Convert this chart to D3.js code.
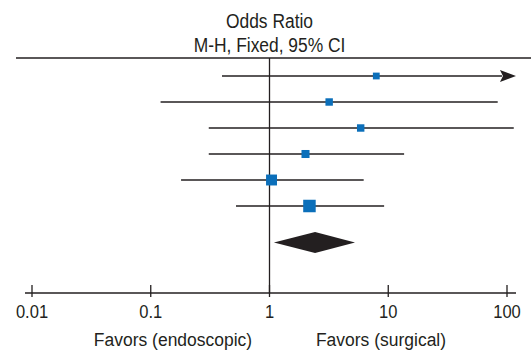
<!DOCTYPE html>
<html>
<head>
<meta charset="utf-8">
<script src="https://cdn.jsdelivr.net/npm/d3@7"></script>
<style>
  body { margin: 0; background: white; }
  text { font-family: "Liberation Sans", Arial, Helvetica, sans-serif; fill: #231f20; }
</style>
</head>
<body>
<script>
// odds ratio per study (M-H, fixed, 95% CI)
const oddsRatio = [7.93, 3.18, 5.86, 2.01, 1.04, 2.17];
const ciLower = [0.398, 0.121, 0.308, 0.308, 0.18, 0.522];
const ciUpper = [1000, 83.5, 114, 13.6, 6.21, 9.23]; // first one runs off the scale
const weights = [5, 6, 6, 7, 13, 17];
const pooled = { or: 2.42, lower: 1.09, upper: 5.25 };
const tickValues = [0.01, 0.1, 1, 10, 100];
const tickLabels = ['0.01', '0.1', '1', '10', '100'];

const width = 531;
const height = 356;
const axisY = 293;
const topRule = 58;
const arrowMax = 119;

const x = d3.scaleLog().domain([0.01, 100]).range([32, 507]);
const y = d3.scaleLinear().domain([0, 5]).range([76, 206]);
const side = d3.scaleSqrt().domain([0, 17]).range([0, 12.5]);

const svg = d3.select('body')
  .append('svg')
  .attr('width', width)
  .attr('height', height);

svg.append('rect').attr('width', width).attr('height', height).attr('fill', 'white');

const ink = '#231f20';
const blue = '#0b6fba';

// the original uses a condensed Helvetica, squeeze the text horizontally
function label(parent, cx, cy, str, size, squeeze) {
  return parent.append('text')
    .attr('transform', `translate(${cx},${cy}) scale(${squeeze},1)`)
    .attr('text-anchor', 'middle')
    .attr('font-size', size)
    .text(str);
}

// Header
label(svg, x(1), 28, 'Odds Ratio', 20, 0.87);
label(svg, x(1), 52, 'M-H, Fixed, 95% CI', 20, 0.87);

svg.append('line')
  .attr('x1', 16).attr('x2', width)
  .attr('y1', topRule).attr('y2', topRule)
  .attr('stroke', ink).attr('stroke-width', 1.3);

// line of no effect
svg.append('line')
  .attr('x1', x(1)).attr('x2', x(1))
  .attr('y1', topRule).attr('y2', axisY)
  .attr('stroke', ink).attr('stroke-width', 1.3);

const rows = oddsRatio.map((v, i) => ({
  or: v, lo: ciLower[i], hi: ciUpper[i], w: weights[i], i
}));

// CI lines
svg.selectAll('line.ci')
  .data(rows)
  .enter()
  .append('line')
  .attr('class', 'ci')
  .attr('x1', (d) => x(d.lo))
  .attr('x2', (d) => d.hi > arrowMax ? x(arrowMax) - 14 : x(d.hi))
  .attr('y1', (d) => y(d.i))
  .attr('y2', (d) => y(d.i))
  .attr('stroke', ink)
  .attr('stroke-width', 1.3);

// arrow heads for CIs running off the scale
svg.selectAll('path.arrow')
  .data(rows.filter((d) => d.hi > arrowMax))
  .enter()
  .append('path')
  .attr('class', 'arrow')
  .attr('d', (d) => {
    const tip = x(arrowMax), cy = y(d.i);
    return `M${tip},${cy}L${tip - 16},${cy - 6}L${tip - 13},${cy}L${tip - 16},${cy + 6}Z`;
  })
  .attr('fill', ink);

// study squares
svg.selectAll('rect.study')
  .data(rows)
  .enter()
  .append('rect')
  .attr('class', 'study')
  .attr('x', (d) => x(d.or) - side(d.w) / 2)
  .attr('y', (d) => y(d.i) - side(d.w) / 2)
  .attr('width', (d) => side(d.w))
  .attr('height', (d) => side(d.w))
  .attr('fill', blue);

// pooled diamond
const py = y(6.4);
svg.append('path')
  .datum(pooled)
  .attr('d', (d) => `M${x(d.lower)},${py}L${x(d.or)},${py - 10.5}L${x(d.upper)},${py}L${x(d.or)},${py + 10.5}Z`)
  .attr('fill', ink);

// X axis
const axis = svg.append('g')
  .attr('transform', `translate(0,${axisY})`);
axis.append('line')
  .attr('x1', 25).attr('x2', 516)
  .attr('stroke', ink).attr('stroke-width', 1.3);
axis.selectAll('line.tick')
  .data(tickValues)
  .enter()
  .append('line')
  .attr('class', 'tick')
  .attr('x1', (d) => x(d)).attr('x2', (d) => x(d))
  .attr('y1', -8).attr('y2', 4)
  .attr('stroke', ink).attr('stroke-width', 1.3);
tickValues.forEach((d, i) => label(axis, x(d), 25, tickLabels[i], 18, 0.92));

label(svg, 173, 346, 'Favors (endoscopic)', 19, 0.92);
label(svg, 381, 346, 'Favors (surgical)', 19, 0.92);
</script>
</body>
</html>
